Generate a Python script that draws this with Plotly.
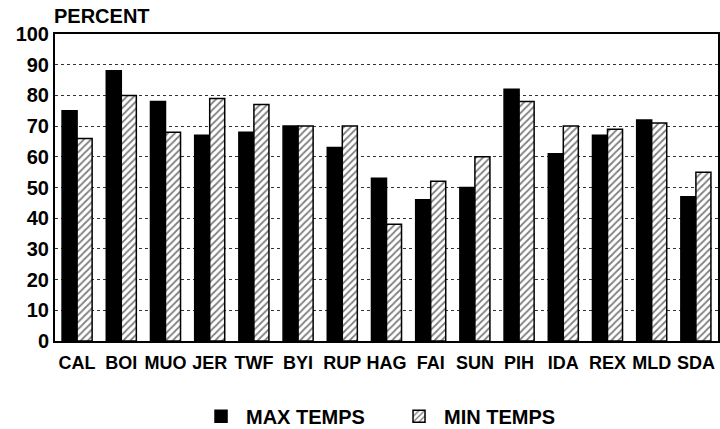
import plotly.graph_objects as go

stations = ["CAL", "BOI", "MUO", "JER", "TWF", "BYI", "RUP", "HAG", "FAI", "SUN", "PIH", "IDA", "REX", "MLD", "SDA"]
max_temps = [75, 88, 78, 67, 68, 70, 63, 53, 46, 50, 82, 61, 67, 72, 47]
min_temps = [66, 80, 68, 79, 77, 70, 70, 38, 52, 60, 78, 70, 69, 71, 55]
y_ticks = [0, 10, 20, 30, 40, 50, 60, 70, 80, 90, 100]

FONT = "Liberation Sans, Arial, Helvetica, sans-serif"

fig = go.Figure()
fig.add_trace(go.Bar(
    x=stations, y=max_temps, name="MAX TEMPS",
    marker=dict(color="black", line=dict(color="black", width=1.5)),
))
fig.add_trace(go.Bar(
    x=stations, y=min_temps, name="MIN TEMPS",
    marker=dict(color="white", line=dict(color="black", width=1.5),
                pattern=dict(shape="/", fgcolor="black", bgcolor="white", size=5, solidity=0.35)),
))

fig.update_layout(
    width=720, height=429,
    paper_bgcolor="white", plot_bgcolor="white",
    margin=dict(l=55, r=2, t=34, b=88, autoexpand=False),
    barmode="group", bargap=0.32, bargroupgap=0,
    font=dict(family=FONT, color="black", size=18, weight="bold"),
    showlegend=True,
    legend=dict(orientation="h", x=0.2127, xanchor="left", y=-0.245, yanchor="middle",
                font=dict(size=20, family=FONT, weight="bold"), itemwidth=40,
                traceorder="normal", entrywidth=143, entrywidthmode="pixels"),
    annotations=[dict(text="PERCENT", xref="paper", yref="paper", x=-0.005, y=1.058,
                      xanchor="left", yanchor="middle", showarrow=False,
                      font=dict(size=20, family=FONT, weight="bold"))],
)
fig.update_yaxes(range=[0, 100], tickvals=y_ticks, showgrid=True, gridcolor="#333",
                 griddash="dot", gridwidth=1, showline=True, linecolor="black", linewidth=2,
                 mirror=True, ticks="", tickfont=dict(size=20, weight="bold"), zeroline=False)
fig.update_xaxes(showline=True, linecolor="black", linewidth=2, mirror=True, ticks="",
                 ticklabelstandoff=4, tickfont=dict(size=18, weight="bold"))

fig.write_html("out.html", config={"displayModeBar": False},
               post_script="document.body.style.margin='0';document.body.style.overflow='hidden';")
